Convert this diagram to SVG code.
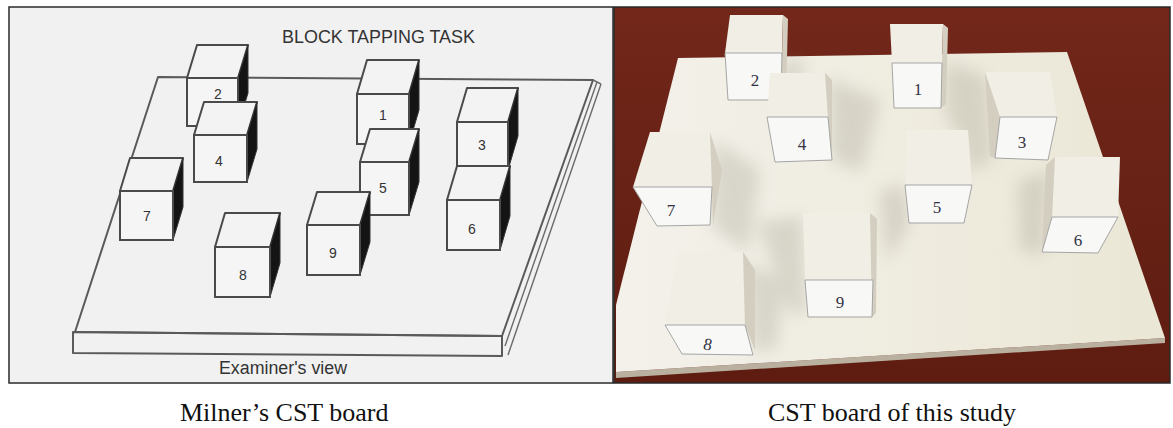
<svg xmlns="http://www.w3.org/2000/svg" width="1173" height="428" viewBox="0 0 1173 428">
  <style>
    .frame{fill:none;stroke:#2a2a2a;stroke-width:1.5}
    .edge{fill:none;stroke:#5a5a5a;stroke-width:2;stroke-linejoin:round}
    .thin{fill:none;stroke:#6a6a6a;stroke-width:1.4}
    .ftop{fill:#f3f3f3;stroke:#4a4a4a;stroke-width:2;stroke-linejoin:round}
    .fside{fill:#141414;stroke:#333;stroke-width:1}
    .ffront{fill:#f5f5f5;stroke:#4a4a4a;stroke-width:2}
    .num{font-family:"Liberation Sans",Arial,sans-serif;font-size:14px;fill:#333;text-anchor:middle}
    .title{font-family:"Liberation Sans",Arial,sans-serif;font-size:18px;fill:#333}
    .ptop{fill:#f0eee5}
    .pside{fill:#d3cebf}
    .pfront{fill:#f8f8f6;stroke:#a5a5a5;stroke-width:1}
    .pnum{font-family:"Liberation Serif","Times New Roman",serif;font-size:17px;fill:#333344;text-anchor:middle}
    .cap{font-family:"Liberation Serif","Times New Roman",serif;font-size:26px;fill:#111}
  </style>
  <defs>
    <linearGradient id="bg" x1="0" y1="0" x2="0" y2="1">
      <stop offset="0" stop-color="#72271a"/>
      <stop offset="1" stop-color="#5e1c11"/>
    </linearGradient>
    <linearGradient id="board" x1="0" y1="0" x2="1" y2="0">
      <stop offset="0" stop-color="#f3f1ea"/>
      <stop offset="1" stop-color="#ebe7d6"/>
    </linearGradient>
    <filter id="blur" x="-50%" y="-50%" width="200%" height="200%">
      <feGaussianBlur stdDeviation="8"/>
    </filter>
    <clipPath id="photoClip"><rect x="614" y="7" width="556" height="376"/></clipPath>
  </defs>

  <rect width="1173" height="428" fill="#ffffff"/>

  <!-- LEFT PANEL: Milner's drawing -->
  <g id="left-panel">
    <rect x="9" y="7" width="604" height="376" fill="#f1f1f1"/>
    <text class="title" x="282" y="43" textLength="193" lengthAdjust="spacingAndGlyphs">BLOCK TAPPING TASK</text>
    <g id="board-drawing">
      <polygon class="edge" points="158,77 593,80 502,336 75,332"/>
      <polygon class="edge" points="73,332 502,336 502,356 73,353"/>
      <line class="thin" x1="597" y1="82" x2="505" y2="346"/>
      <line class="thin" x1="601" y1="84" x2="508" y2="355"/>
      <line class="thin" x1="593" y1="80" x2="601" y2="84"/>
    </g>
    <g id="block-2">
      <polygon class="ftop" points="187,78 238,78 248,45 197,45"/>
      <polygon class="fside" points="238,78 248,45 248,93 238,126"/>
      <rect class="ffront" x="187" y="78" width="51" height="48"/>
      <text class="num" x="218" y="99">2</text>
    </g>
    <g id="block-1">
      <polygon class="ftop" points="357,94 409,94 419,60 367,60"/>
      <polygon class="fside" points="409,94 419,60 419,110 409,144"/>
      <rect class="ffront" x="357" y="94" width="52" height="50"/>
      <text class="num" x="383" y="120">1</text>
    </g>
    <g id="block-3">
      <polygon class="ftop" points="457,122 508,122 518,88 467,88"/>
      <polygon class="fside" points="508,122 518,88 518,136 508,170"/>
      <rect class="ffront" x="457" y="122" width="51" height="48"/>
      <text class="num" x="482" y="150">3</text>
    </g>
    <g id="block-4">
      <polygon class="ftop" points="194,135 247,135 257,102 204,102"/>
      <polygon class="fside" points="247,135 257,102 257,149 247,182"/>
      <rect class="ffront" x="194" y="135" width="53" height="47"/>
      <text class="num" x="219" y="166">4</text>
    </g>
    <g id="block-5">
      <polygon class="ftop" points="360,162 409,162 419,129 370,129"/>
      <polygon class="fside" points="409,162 419,129 419,182 409,215"/>
      <rect class="ffront" x="360" y="162" width="49" height="53"/>
      <text class="num" x="383" y="193">5</text>
    </g>
    <g id="block-7">
      <polygon class="ftop" points="120,191 173,191 183,158 130,158"/>
      <polygon class="fside" points="173,191 183,158 183,207 173,240"/>
      <rect class="ffront" x="120" y="191" width="53" height="49"/>
      <text class="num" x="147" y="221">7</text>
    </g>
    <g id="block-6">
      <polygon class="ftop" points="447,200 500,200 510,166 457,166"/>
      <polygon class="fside" points="500,200 510,166 510,216 500,250"/>
      <rect class="ffront" x="447" y="200" width="53" height="50"/>
      <text class="num" x="472" y="234">6</text>
    </g>
    <g id="block-9">
      <polygon class="ftop" points="307,225 360,225 370,192 317,192"/>
      <polygon class="fside" points="360,225 370,192 370,242 360,275"/>
      <rect class="ffront" x="307" y="225" width="53" height="50"/>
      <text class="num" x="333" y="258">9</text>
    </g>
    <g id="block-8">
      <polygon class="ftop" points="215,247 270,247 280,213 225,213"/>
      <polygon class="fside" points="270,247 280,213 280,263 270,297"/>
      <rect class="ffront" x="215" y="247" width="55" height="50"/>
      <text class="num" x="243" y="280">8</text>
    </g>
    <text class="title" x="219" y="374" font-size="17" textLength="128" lengthAdjust="spacingAndGlyphs">Examiner's view</text>
    <rect class="frame" x="9" y="7" width="604" height="376"/>
  </g>

  <!-- RIGHT PANEL: photo of the study's board -->
  <g id="right-panel" clip-path="url(#photoClip)">
    <rect x="614" y="7" width="556" height="376" fill="url(#bg)"/>
    <polygon points="616,372 1165,338 1165,343 616,378" fill="#b9b09f"/>
    <polygon id="photo-board" points="678,58 1067,52 1165,338 616,372 616,305" fill="url(#board)"/>
    <g id="shadows" fill="#8f8a7a" opacity="0.25" filter="url(#blur)">
      <polygon points="828,78 880,100 862,172 832,160"/>
      <polygon points="945,62 985,75 975,165 945,112"/>
      <polygon points="714,140 760,170 748,252 712,226"/>
      <polygon points="757,222 803,216 806,316 790,312"/>
      <polygon points="746,262 785,282 776,350 753,350"/>
      <polygon points="880,190 905,186 909,226 886,262"/>
      <polygon points="962,82 988,80 993,160 966,172"/>
      <polygon points="1018,182 1050,170 1044,255 1020,250"/>
      <polygon points="785,58 805,60 795,108 778,104"/>
    </g>
    <g id="photo-box-2">
      <polygon class="ptop" points="730,15 783,15 782,53 725,53"/>
      <polygon class="pside" points="783,15 788,19 786,96 781,100"/>
      <polygon class="pfront" points="725,53 782,53 781,100 728,100"/>
      <text class="pnum" x="755" y="86">2</text>
    </g>
    <g id="photo-box-1">
      <polygon class="ptop" points="890,24 943,24 942,63 892,63"/>
      <polygon class="pside" points="943,24 948,28 946,104 941,108"/>
      <polygon class="pfront" points="892,63 942,63 941,108 894,108"/>
      <text class="pnum" x="918" y="95">1</text>
    </g>
    <g id="photo-box-3">
      <polygon class="ptop" points="985,72 1050,72 1057,117 1000,117"/>
      <polygon class="pside" points="985,72 1000,117 995,158 990,156"/>
      <polygon class="pfront" points="1000,117 1057,117 1048,160 995,158"/>
      <text class="pnum" x="1022" y="148">3</text>
    </g>
    <g id="photo-box-4">
      <polygon class="ptop" points="770,73 825,73 828,117 767,117"/>
      <polygon class="pside" points="825,73 832,80 832,158 828,117"/>
      <polygon class="pfront" points="767,117 828,117 832,160 775,162"/>
      <text class="pnum" x="802" y="150">4</text>
    </g>
    <g id="photo-box-5">
      <polygon class="ptop" points="907,130 968,130 972,185 905,185"/>
      <polygon class="pfront" points="905,185 972,185 964,223 909,223"/>
      <text class="pnum" x="937" y="213">5</text>
    </g>
    <g id="photo-box-6">
      <polygon class="ptop" points="1055,157 1120,157 1118,217 1052,217"/>
      <polygon class="pside" points="1055,157 1052,217 1042,252 1046,165"/>
      <polygon class="pfront" points="1052,217 1118,217 1098,253 1042,252"/>
      <text class="pnum" x="1078" y="246">6</text>
    </g>
    <g id="photo-box-7">
      <polygon class="ptop" points="650,132 710,132 712,187 633,187"/>
      <polygon class="pside" points="710,132 722,170 713,225 712,187"/>
      <polygon class="pfront" points="633,187 712,187 710,225 657,226"/>
      <text class="pnum" x="671" y="216">7</text>
    </g>
    <g id="photo-box-9">
      <polygon class="ptop" points="803,213 870,213 873,280 805,280"/>
      <polygon class="pside" points="870,213 877,219 876,313 872,317"/>
      <polygon class="pfront" points="805,280 873,280 872,317 808,317"/>
      <text class="pnum" x="840" y="308">9</text>
    </g>
    <g id="photo-box-8">
      <polygon class="ptop" points="678,252 743,252 745,325 665,325"/>
      <polygon class="pside" points="743,252 755,270 755,350 745,325"/>
      <polygon class="pfront" points="665,325 745,325 753,355 682,354"/>
      <text class="pnum" x="708" y="350" transform="rotate(12 708 344)">8</text>
    </g>
  </g>
  <rect class="frame" x="614" y="7" width="556" height="376"/>

  <!-- Captions -->
  <text class="cap" x="180" y="421">Milner’s CST board</text>
  <text class="cap" x="768" y="421">CST board of this study</text>
</svg>
